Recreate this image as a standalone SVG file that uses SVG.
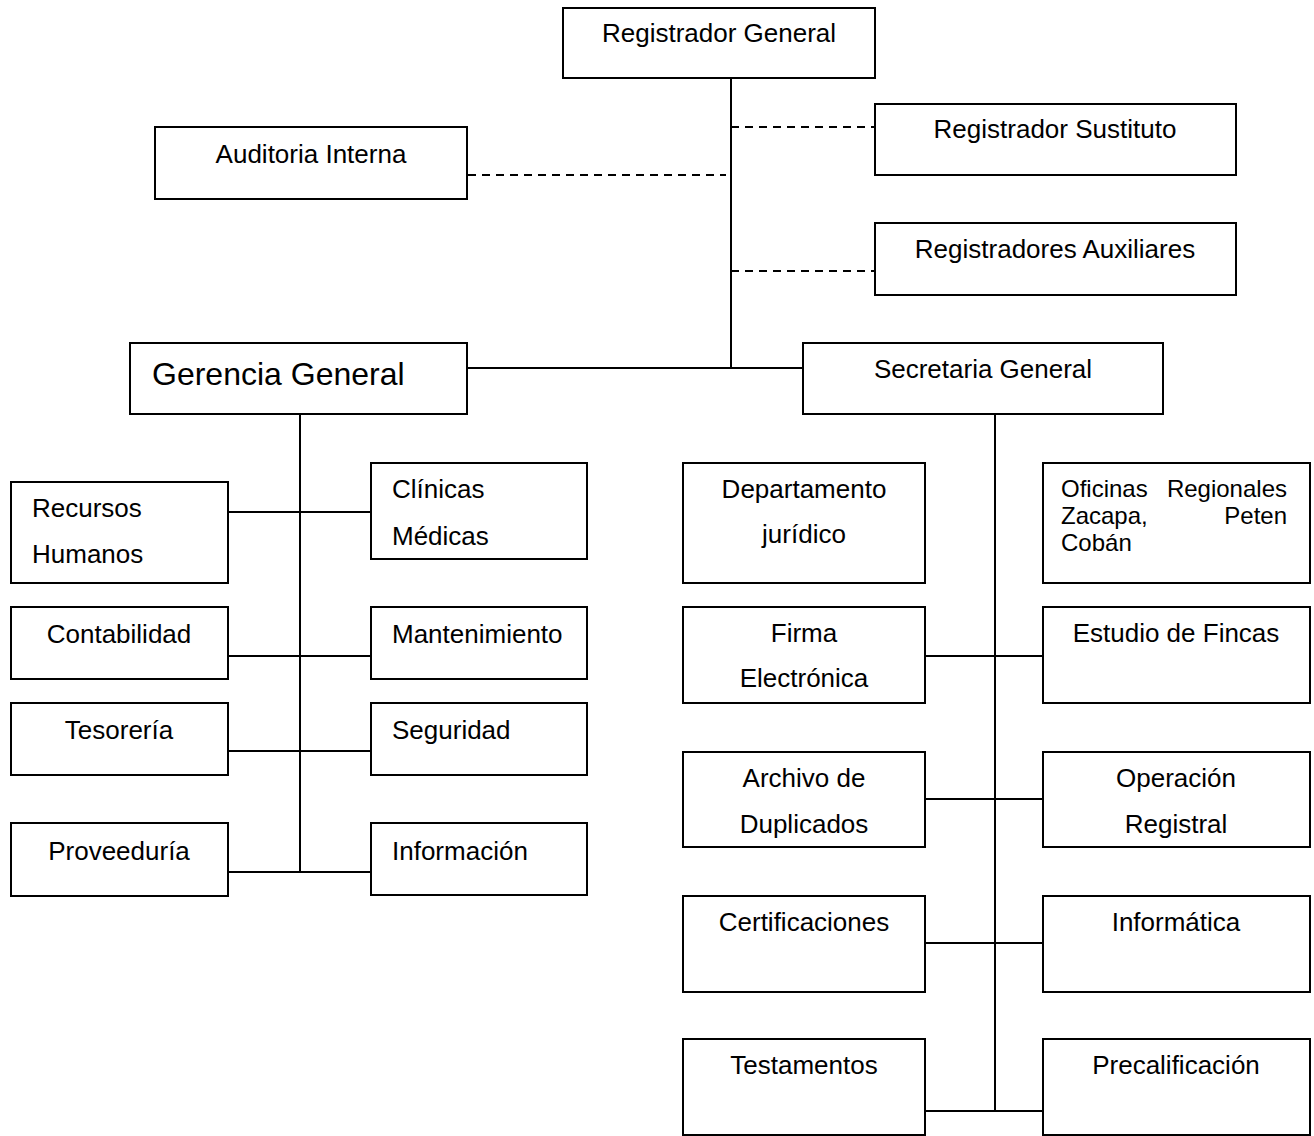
<svg xmlns="http://www.w3.org/2000/svg" width="1314" height="1136" viewBox="0 0 1314 1136">
<style>
.box{fill:#fff;stroke:#000;stroke-width:2}
.ln{stroke:#000;stroke-width:2;fill:none}
.dash{stroke:#000;stroke-width:2;fill:none;stroke-dasharray:8,6}
text{font-family:"Liberation Sans",Arial,sans-serif;font-size:26px;fill:#000}
.c{text-anchor:middle}
.r{text-anchor:end}
.s{font-size:24px}
.big{font-size:32px}
</style>
<rect width="1314" height="1136" fill="#fff"/>
<g id="connectors">
<line class="ln" x1="731" y1="78" x2="731" y2="368"/>
<line class="dash" x1="731" y1="127" x2="875" y2="127"/>
<line class="dash" x1="731" y1="271" x2="875" y2="271"/>
<line class="dash" x1="468" y1="175" x2="726" y2="175"/>
<line class="ln" x1="467" y1="368" x2="803" y2="368"/>
<line class="ln" x1="300" y1="414" x2="300" y2="872"/>
<line class="ln" x1="228" y1="512" x2="371" y2="512"/>
<line class="ln" x1="228" y1="656" x2="371" y2="656"/>
<line class="ln" x1="228" y1="751" x2="371" y2="751"/>
<line class="ln" x1="228" y1="872" x2="371" y2="872"/>
<line class="ln" x1="995" y1="414" x2="995" y2="1111"/>
<line class="ln" x1="925" y1="656" x2="1044" y2="656"/>
<line class="ln" x1="925" y1="799" x2="1044" y2="799"/>
<line class="ln" x1="925" y1="943" x2="1044" y2="943"/>
<line class="ln" x1="925" y1="1111" x2="1044" y2="1111"/>
</g>
<g id="registrador-general"><rect class="box" x="563" y="8" width="312" height="70"/><text class="c" x="719" y="42">Registrador General</text></g>
<g id="registrador-sustituto"><rect class="box" x="875" y="104" width="361" height="71"/><text class="c" x="1055" y="138">Registrador Sustituto</text></g>
<g id="auditoria-interna"><rect class="box" x="155" y="127" width="312" height="72"/><text class="c" x="311" y="163">Auditoria Interna</text></g>
<g id="registradores-auxiliares"><rect class="box" x="875" y="223" width="361" height="72"/><text class="c" x="1055" y="258">Registradores Auxiliares</text></g>
<g id="gerencia-general"><rect class="box" x="130" y="343" width="337" height="71"/><text class="big" x="152" y="385">Gerencia General</text></g>
<g id="secretaria-general"><rect class="box" x="803" y="343" width="360" height="71"/><text class="c" x="983" y="378">Secretaria General</text></g>

<g id="recursos-humanos"><rect class="box" x="11" y="482" width="217" height="101"/><text x="32" y="517">Recursos</text><text x="32" y="563">Humanos</text></g>
<g id="clinicas-medicas"><rect class="box" x="371" y="463" width="216" height="96"/><text x="392" y="498">Clínicas</text><text x="392" y="545">Médicas</text></g>
<g id="contabilidad"><rect class="box" x="11" y="607" width="217" height="72"/><text class="c" x="119" y="643">Contabilidad</text></g>
<g id="mantenimiento"><rect class="box" x="371" y="607" width="216" height="72"/><text x="392" y="643">Mantenimiento</text></g>
<g id="tesoreria"><rect class="box" x="11" y="703" width="217" height="72"/><text class="c" x="119" y="739">Tesorería</text></g>
<g id="seguridad"><rect class="box" x="371" y="703" width="216" height="72"/><text x="392" y="739">Seguridad</text></g>
<g id="proveeduria"><rect class="box" x="11" y="823" width="217" height="73"/><text class="c" x="119" y="860">Proveeduría</text></g>
<g id="informacion"><rect class="box" x="371" y="823" width="216" height="72"/><text x="392" y="860">Información</text></g>

<g id="departamento-juridico"><rect class="box" x="683" y="463" width="242" height="120"/><text class="c" x="804" y="498">Departamento</text><text class="c" x="804" y="543">jurídico</text></g>
<g id="oficinas-regionales"><rect class="box" x="1043" y="463" width="267" height="120"/><text class="s" x="1061" y="497">Oficinas</text><text class="s r" x="1287" y="497">Regionales</text><text class="s" x="1061" y="524">Zacapa,</text><text class="s r" x="1287" y="524">Peten</text><text class="s" x="1061" y="551">Cobán</text></g>
<g id="firma-electronica"><rect class="box" x="683" y="607" width="242" height="96"/><text class="c" x="804" y="642">Firma</text><text class="c" x="804" y="687">Electrónica</text></g>
<g id="estudio-de-fincas"><rect class="box" x="1043" y="607" width="267" height="96"/><text class="c" x="1176" y="642">Estudio de Fincas</text></g>
<g id="archivo-de-duplicados"><rect class="box" x="683" y="752" width="242" height="95"/><text class="c" x="804" y="787">Archivo de</text><text class="c" x="804" y="833">Duplicados</text></g>
<g id="operacion-registral"><rect class="box" x="1043" y="752" width="267" height="95"/><text class="c" x="1176" y="787">Operación</text><text class="c" x="1176" y="833">Registral</text></g>
<g id="certificaciones"><rect class="box" x="683" y="896" width="242" height="96"/><text class="c" x="804" y="931">Certificaciones</text></g>
<g id="informatica"><rect class="box" x="1043" y="896" width="267" height="96"/><text class="c" x="1176" y="931">Informática</text></g>
<g id="testamentos"><rect class="box" x="683" y="1039" width="242" height="96"/><text class="c" x="804" y="1074">Testamentos</text></g>
<g id="precalificacion"><rect class="box" x="1043" y="1039" width="267" height="96"/><text class="c" x="1176" y="1074">Precalificación</text></g>
</svg>
